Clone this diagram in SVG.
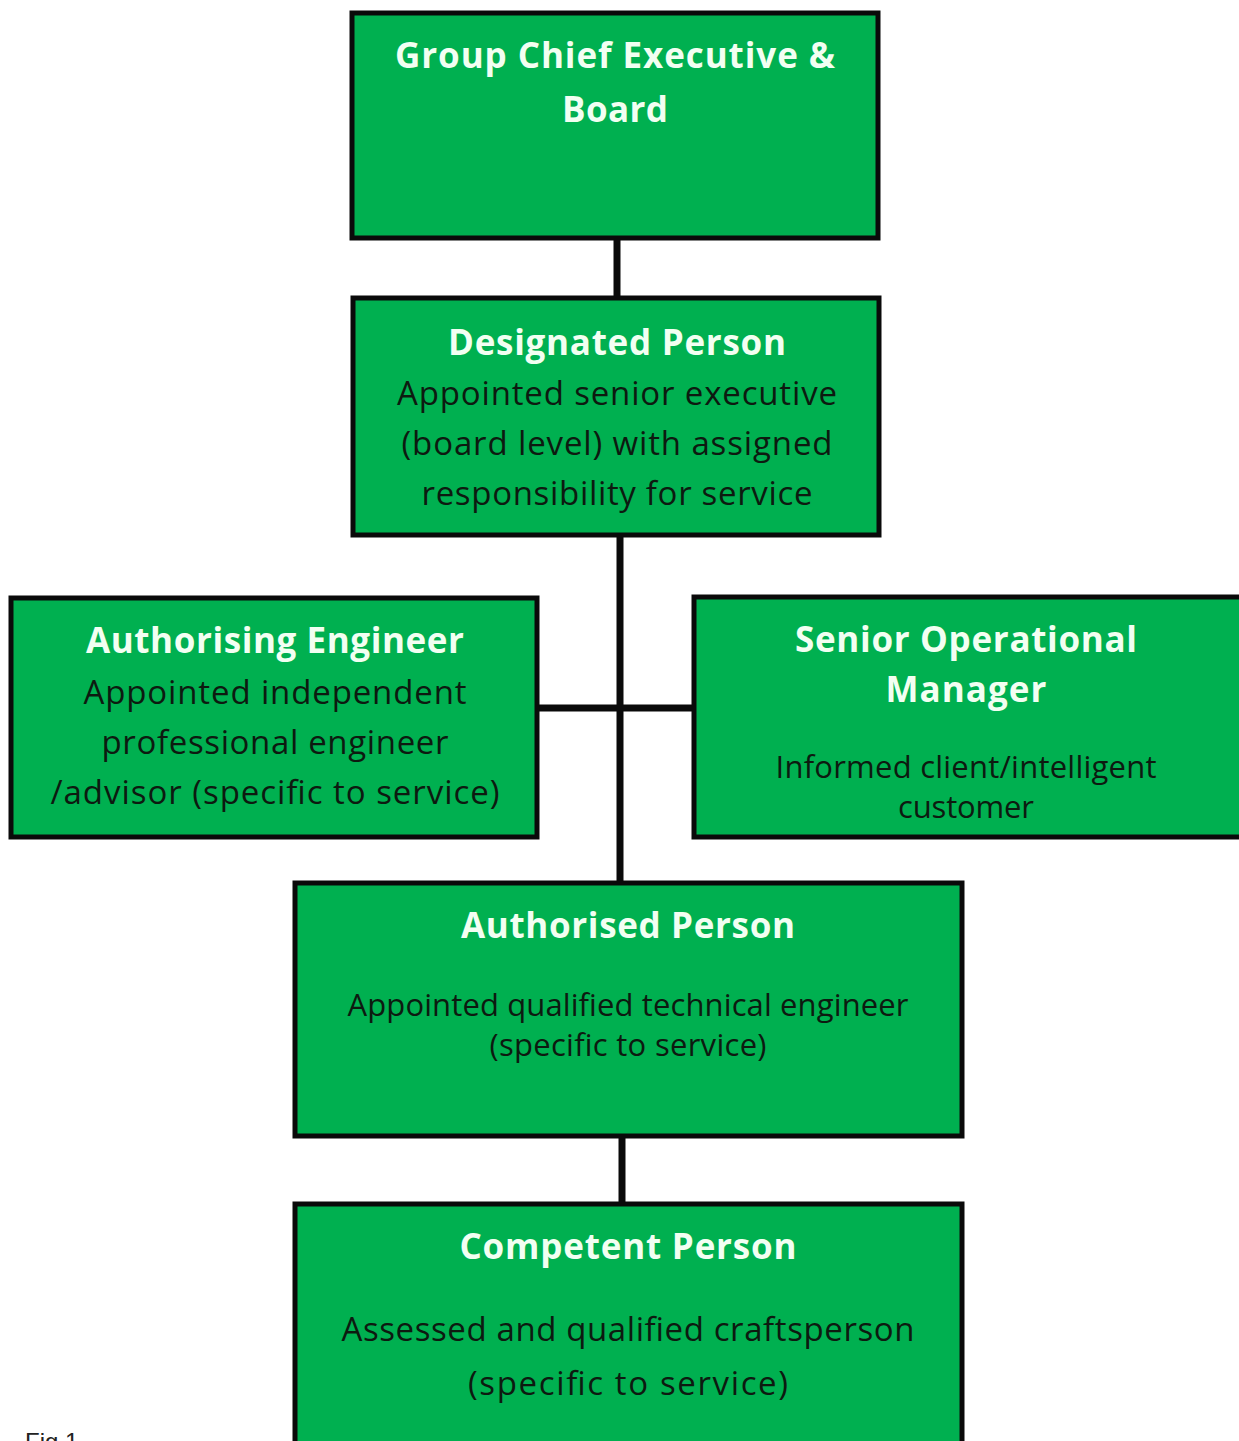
<svg xmlns="http://www.w3.org/2000/svg" width="1239" height="1441" viewBox="0 0 1239 1441">
<style>
.box{fill:#00b050;stroke:#0a0a0a;stroke-width:5}
.h{font-family:"Open Sans","Liberation Sans",sans-serif;font-weight:bold;font-size:35px;fill:#f2fff2;text-anchor:middle}
.b{font-family:"Open Sans","Liberation Sans",sans-serif;font-size:33px;fill:#0d1a10;text-anchor:middle}
.s{font-size:31px}
.c{stroke:#0a0a0a;stroke-width:7;fill:none}
.fig{font-family:"Liberation Sans",Arial,sans-serif;font-size:24px;fill:#222}
</style>
<rect width="1239" height="1441" fill="#ffffff"/>
<g id="connectors">
<line class="c" x1="617" y1="239" x2="617" y2="297"/>
<line class="c" x1="620" y1="536" x2="620" y2="882"/>
<line class="c" x1="538" y1="708" x2="693" y2="708"/>
<line class="c" x1="622" y1="1137" x2="622" y2="1203"/>
</g>
<g id="node-gce">
<rect class="box" x="352" y="13" width="526" height="225"/>
<text class="h" x="615" y="68" textLength="440">Group Chief Executive &amp;</text>
<text class="h" x="615" y="122" textLength="106">Board</text>
</g>
<g id="node-designated">
<rect class="box" x="353" y="298" width="526" height="237"/>
<text class="h" x="617" y="355" textLength="338">Designated Person</text>
<text class="b" x="617" y="405" textLength="440">Appointed senior executive</text>
<text class="b" x="617" y="455" textLength="431">(board level) with assigned</text>
<text class="b" x="617" y="505" textLength="391">responsibility for service</text>
</g>
<g id="node-authorising">
<rect class="box" x="11" y="598" width="526" height="239"/>
<text class="h" x="275" y="653" textLength="378">Authorising Engineer</text>
<text class="b" x="275" y="704" textLength="383">Appointed independent</text>
<text class="b" x="275" y="754" textLength="347">professional engineer</text>
<text class="b" x="275" y="804" textLength="449">/advisor (specific to service)</text>
</g>
<g id="node-senior">
<rect class="box" x="694" y="597" width="548" height="240"/>
<text class="h" x="966" y="652" textLength="342">Senior Operational</text>
<text class="h" x="966" y="702" textLength="161">Manager</text>
<text class="b s" x="966" y="778" textLength="381">Informed client/intelligent</text>
<text class="b s" x="966" y="818" textLength="136">customer</text>
</g>
<g id="node-authorised">
<rect class="box" x="295" y="883" width="667" height="253"/>
<text class="h" x="628" y="938" textLength="334">Authorised Person</text>
<text class="b s" x="628" y="1016" textLength="561">Appointed qualified technical engineer</text>
<text class="b s" x="628" y="1056" textLength="277">(specific to service)</text>
</g>
<g id="node-competent">
<rect class="box" x="295" y="1204" width="667" height="260"/>
<text class="h" x="628" y="1259" textLength="337">Competent Person</text>
<text class="b" x="628" y="1341" textLength="573">Assessed and qualified craftsperson</text>
<text class="b" x="628" y="1395" textLength="320">(specific to service)</text>
</g>
<text class="fig" x="25" y="1450">Fig 1</text>
</svg>
